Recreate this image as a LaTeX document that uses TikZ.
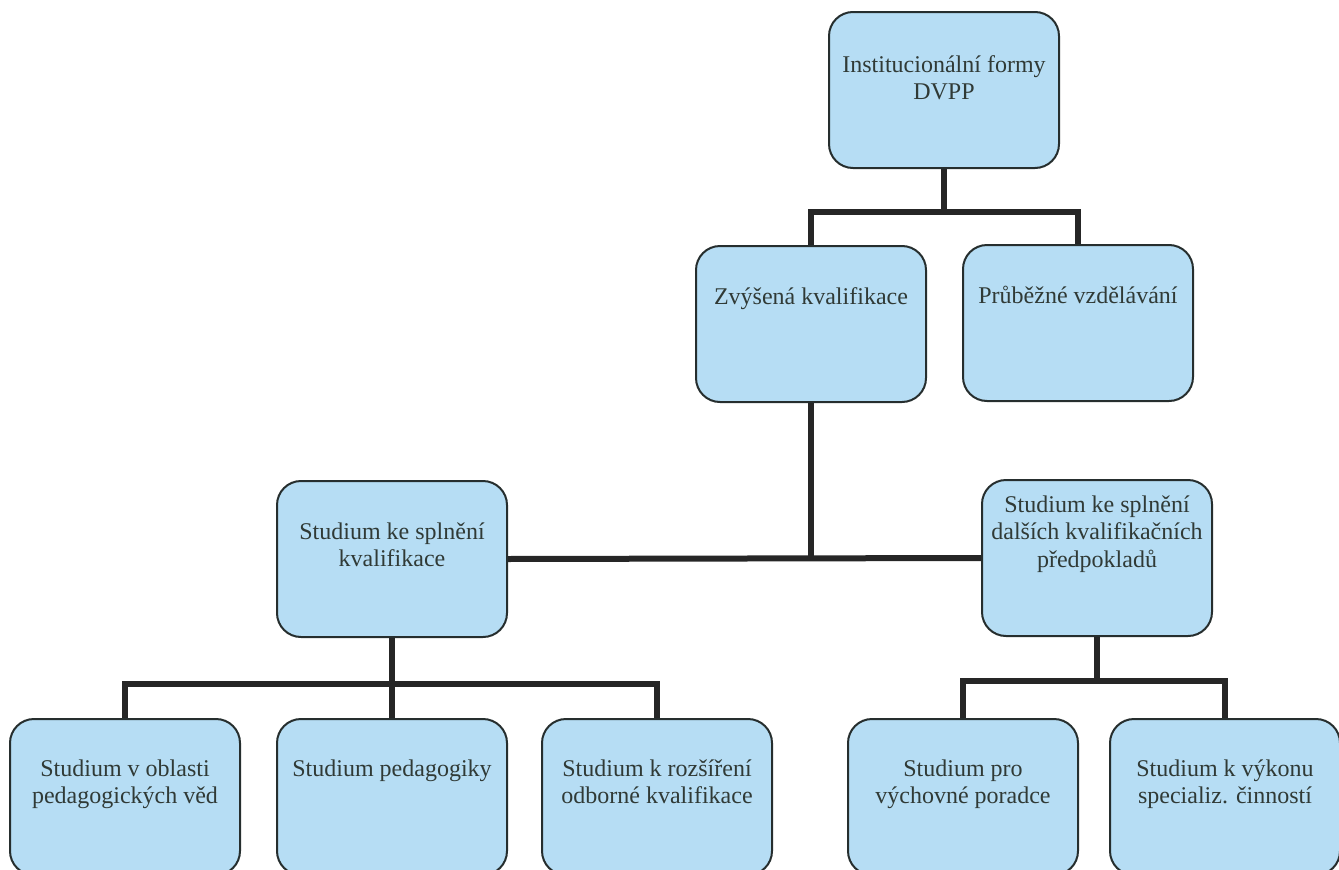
\documentclass[tikz,border=0pt]{standalone}
\usepackage{fontspec}
\setmainfont{Liberation Serif}
\definecolor{boxblue}{RGB}{182,221,244}
\definecolor{boxline}{RGB}{38,46,46}
\definecolor{textgrey}{RGB}{48,58,54}
\tikzset{>=latex}
\tikzset{orgbox/.style={draw=boxline,fill=boxblue,line width=2pt,rounded corners=24pt,
    minimum width=230pt,minimum height=156pt,inner sep=0pt,text=textgrey,
    font=\fontsize{24}{27.5}\selectfont}}
\tikzset{conn/.style={draw=black!85,line width=6pt}}
\newcommand{\boxtext}[2][36pt]{\begin{minipage}[c][150pt][t]{226pt}\centering\vspace*{#1}\strut#2\end{minipage}}

\begin{document}
\begin{tikzpicture}[x=1pt,y=-1pt]
  \useasboundingbox (0,0) rectangle (1339,870);
  \clip (0,0) rectangle (1339,870);
  % Boxes
  \node[orgbox] (dvpp) at (944,90) {\boxtext[38pt]{Institucionální formy\\DVPP}};
  \node[orgbox] (zvys) at (811,324) {\boxtext{Zvýšená kvalifikace}};
  \node[orgbox] (prub) at (1078,323) {\boxtext{Průběžné vzdělávání}};
  \node[orgbox] (skk) at (392,559) {\boxtext{Studium ke splnění\\kvalifikace}};
  \node[orgbox] (sdkp) at (1097,558) {\boxtext[10pt]{Studium ke splnění\\dalších kvalifikačních\\předpokladů}};
  \node[orgbox] (pedved) at (125,797) {\boxtext[35pt]{Studium v oblasti\\pedagogických věd}};
  \node[orgbox] (pedag) at (392,797) {\boxtext[35pt]{Studium pedagogiky}};
  \node[orgbox] (rozs) at (657,797) {\boxtext[35pt]{Studium k rozšíření\\odborné kvalifikace}};
  \node[orgbox] (porad) at (963,797) {\boxtext[35pt]{Studium pro\\výchovné poradce}};
  \node[orgbox] (spec) at (1225,797) {\boxtext[35pt]{Studium k výkonu\\specializ. činností}};
  % Lines
  \coordinate (busa) at (944,212);
  \draw[conn] (dvpp.south) -- (busa);
  \draw[conn] (busa) -| (zvys.north);
  \draw[conn] (busa) -| (prub.north);
  \draw[conn] (skk.east) -- (sdkp.west);
  \draw[conn] (zvys.south) -- (zvys.south |- sdkp.west);
  \coordinate (busb) at (392,684);
  \draw[conn] (skk.south) -- (pedag.north);
  \draw[conn] (busb) -| (pedved.north);
  \draw[conn] (busb) -| (rozs.north);
  \coordinate (busc) at (1097,681);
  \draw[conn] (sdkp.south) -- (busc);
  \draw[conn] (busc) -| (porad.north);
  \draw[conn] (busc) -| (spec.north);
\end{tikzpicture}
\end{document}
